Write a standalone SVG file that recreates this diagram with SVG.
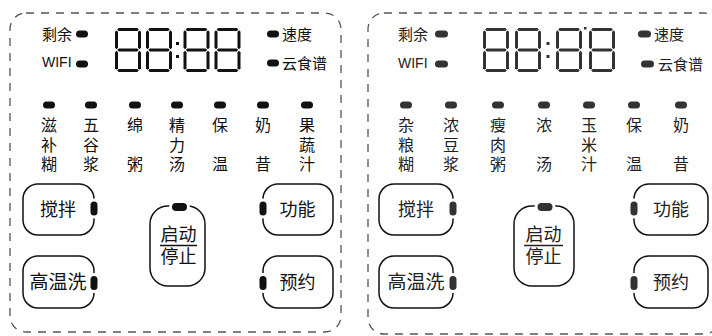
<svg xmlns="http://www.w3.org/2000/svg" xmlns:xlink="http://www.w3.org/1999/xlink" width="712" height="336" viewBox="0 0 712 336">
<style>
.panel{fill:none;stroke:#555;stroke-width:1.3;stroke-dasharray:8 7}
.btn{fill:#fff;stroke:#111;stroke-width:1.5}
.t{font-family:"Noto Sans CJK SC","Noto Sans",sans-serif;fill:#111}
.s15{font-size:15px}
.s16{font-size:16px;text-anchor:middle}
.s18{font-size:18px;text-anchor:middle}
.wifi{font-family:"Liberation Sans",Arial,sans-serif;font-size:14px;fill:#111}
.led{fill:#111}
.led2{fill:#333}
.halo{stroke:#fff;stroke-width:6;paint-order:stroke}
.r .t,.r .wifi{fill:#222}
</style>
<defs>
<g id="d8">
<polygon points="2.2,1.5 3.7,0 22.3,0 23.8,1.5 22.3,3 3.7,3"/>
<polygon points="1.5,2.3 3,3.8 3,19.7 1.5,21.2 0,19.7 0,3.8"/>
<polygon points="24.5,2.3 26,3.8 26,19.7 24.5,21.2 23,19.7 23,3.8"/>
<polygon points="2.3,22 3.8,20.5 22.2,20.5 23.7,22 22.2,23.5 3.8,23.5"/>
<polygon points="1.5,22.8 3,24.3 3,40.2 1.5,41.7 0,40.2 0,24.3"/>
<polygon points="24.5,22.8 26,24.3 26,40.2 24.5,41.7 23,40.2 23,24.3"/>
<polygon points="2.2,42.5 3.7,41 22.3,41 23.8,42.5 22.3,44 3.7,44"/>
</g>
</defs>
<rect width="712" height="336" fill="#fff"/>

<g id="connectors"/>

<!-- LEFT PANEL -->
<g id="left-panel">
<rect class="panel" x="10" y="13" width="331" height="319" rx="16"/>
<g id="left-status">
<text class="t s15" x="42" y="40">剩余</text>
<rect class="led" x="76" y="30.5" width="12" height="7" rx="3.5"/>
<text class="wifi" x="42" y="67">WIFI</text>
<rect class="led" x="76" y="60.5" width="12" height="7" rx="3.5"/>
<rect class="led" x="267" y="30.5" width="12" height="7" rx="3.5"/>
<text class="t s15" x="282" y="40">速度</text>
<rect class="led" x="267" y="59.5" width="12" height="7" rx="3.5"/>
<text class="t s15" x="282" y="69">云食谱</text>
</g>
<g id="left-display" fill="#111">
<use xlink:href="#d8" x="115" y="28"/>
<use xlink:href="#d8" x="146" y="28"/>
<rect x="176" y="42" width="3" height="3"/>
<rect x="176" y="55" width="3" height="3"/>
<use xlink:href="#d8" x="183.5" y="28"/>
<use xlink:href="#d8" x="214.5" y="28"/>
</g>
<g id="left-menus">
<rect class="led" x="43" y="101.5" width="12" height="7" rx="3.5"/>
<rect class="led" x="85" y="101.5" width="12" height="7" rx="3.5"/>
<rect class="led" x="129" y="101.5" width="12" height="7" rx="3.5"/>
<rect class="led" x="171" y="101.5" width="12" height="7" rx="3.5"/>
<rect class="led" x="214" y="101.5" width="12" height="7" rx="3.5"/>
<rect class="led" x="257" y="101.5" width="12" height="7" rx="3.5"/>
<rect class="led" x="301" y="101.5" width="12" height="7" rx="3.5"/>
<text class="t s16"><tspan x="49" y="131">滋</tspan><tspan x="49" y="150.5">补</tspan><tspan x="49" y="170">糊</tspan></text>
<text class="t s16"><tspan x="91" y="131">五</tspan><tspan x="91" y="150.5">谷</tspan><tspan x="91" y="170">浆</tspan></text>
<text class="t s16"><tspan x="135" y="131">绵</tspan><tspan x="135" y="170">粥</tspan></text>
<text class="t s16"><tspan x="177" y="131">精</tspan><tspan x="177" y="150.5">力</tspan><tspan x="177" y="170">汤</tspan></text>
<text class="t s16"><tspan x="220" y="131">保</tspan><tspan x="220" y="170">温</tspan></text>
<text class="t s16"><tspan x="263" y="131">奶</tspan><tspan x="263" y="170">昔</tspan></text>
<text class="t s16"><tspan x="307" y="131">果</tspan><tspan x="307" y="150.5">蔬</tspan><tspan x="307" y="170">汁</tspan></text>
</g>
<g id="left-btn-stir">
<rect class="btn" x="23" y="184" width="71" height="51" rx="15"/>
<rect class="led halo" x="90.5" y="201.5" width="7" height="14" rx="3.5"/>
<text class="t s18" x="58" y="216">搅拌</text>
</g>
<g id="left-btn-wash">
<rect class="btn" x="23" y="256" width="71" height="52" rx="15"/>
<rect class="led halo" x="90.5" y="276" width="7" height="14" rx="3.5"/>
<text class="t s18" x="58" y="289" style="font-size:19px">高温洗</text>
</g>
<g id="left-btn-start">
<rect class="btn" x="150" y="206" width="55" height="80" rx="18"/>
<rect class="led halo" x="172" y="203" width="15" height="8" rx="4"/>
<text class="t s18" x="178.5" y="241">启动</text>
<line x1="160" y1="245.5" x2="197" y2="245.5" stroke="#111" stroke-width="1.5"/>
<text class="t s18" x="178.5" y="263">停止</text>
</g>
<g id="left-btn-func">
<rect class="btn" x="263" y="184" width="70" height="51" rx="15"/>
<rect class="led halo" x="259.5" y="201.5" width="7" height="14" rx="3.5"/>
<text class="t s18" x="297.5" y="216">功能</text>
</g>
<g id="left-btn-timer">
<rect class="btn" x="263" y="256" width="70" height="52" rx="15"/>
<rect class="led halo" x="259.5" y="276" width="7" height="14" rx="3.5"/>
<text class="t s18" x="297.5" y="289">预约</text>
</g>
</g>

<!-- RIGHT PANEL -->
<g id="right-panel" class="r">
<rect class="panel" x="368" y="13" width="352" height="321" rx="16"/>
<g id="right-status">
<text class="t s15" x="398" y="40">剩余</text>
<rect class="led2" x="435" y="30.5" width="13" height="7" rx="3.5"/>
<text class="wifi" x="398" y="68">WIFI</text>
<rect class="led2" x="435" y="60.5" width="13" height="7" rx="3.5"/>
<rect class="led2" x="638" y="30.5" width="13" height="7" rx="3.5"/>
<text class="t s15" x="654" y="40">速度</text>
<rect class="led2" x="641" y="60.5" width="13" height="7" rx="3.5"/>
<text class="t s15" x="658" y="70">云食谱</text>
</g>
<g id="right-display" fill="#333">
<use xlink:href="#d8" x="483" y="28"/>
<use xlink:href="#d8" x="515" y="28"/>
<rect x="546.5" y="42" width="3" height="3"/>
<rect x="546.5" y="55" width="3" height="3"/>
<use xlink:href="#d8" x="556" y="28"/>
<rect x="584" y="27" width="2.5" height="2.5"/>
<use xlink:href="#d8" x="589" y="28"/>
</g>
<g id="right-menus">
<rect class="led2" x="400" y="101.5" width="12" height="7" rx="3.5"/>
<rect class="led2" x="445" y="101.5" width="12" height="7" rx="3.5"/>
<rect class="led2" x="492" y="101.5" width="12" height="7" rx="3.5"/>
<rect class="led2" x="538" y="101.5" width="12" height="7" rx="3.5"/>
<rect class="led2" x="583" y="101.5" width="12" height="7" rx="3.5"/>
<rect class="led2" x="628" y="101.5" width="12" height="7" rx="3.5"/>
<rect class="led2" x="675" y="101.5" width="12" height="7" rx="3.5"/>
<text class="t s16"><tspan x="406" y="131">杂</tspan><tspan x="406" y="150.5">粮</tspan><tspan x="406" y="170">糊</tspan></text>
<text class="t s16"><tspan x="451" y="131">浓</tspan><tspan x="451" y="150.5">豆</tspan><tspan x="451" y="170">浆</tspan></text>
<text class="t s16"><tspan x="498" y="131">瘦</tspan><tspan x="498" y="150.5">肉</tspan><tspan x="498" y="170">粥</tspan></text>
<text class="t s16"><tspan x="544" y="131">浓</tspan><tspan x="544" y="170">汤</tspan></text>
<text class="t s16"><tspan x="589" y="131">玉</tspan><tspan x="589" y="150.5">米</tspan><tspan x="589" y="170">汁</tspan></text>
<text class="t s16"><tspan x="634" y="131">保</tspan><tspan x="634" y="170">温</tspan></text>
<text class="t s16"><tspan x="681" y="131">奶</tspan><tspan x="681" y="170">昔</tspan></text>
</g>
<g id="right-btn-stir">
<rect class="btn" x="379" y="184" width="74" height="51" rx="15"/>
<rect class="led2 halo" x="449.5" y="201.5" width="7" height="14" rx="3.5"/>
<text class="t s18" x="416" y="216">搅拌</text>
</g>
<g id="right-btn-wash">
<rect class="btn" x="379" y="256" width="74" height="52" rx="15"/>
<rect class="led2 halo" x="449.5" y="276" width="7" height="14" rx="3.5"/>
<text class="t s18" x="416" y="289" style="font-size:19px">高温洗</text>
</g>
<g id="right-btn-start">
<rect class="btn" x="514" y="206" width="60" height="80" rx="18"/>
<rect class="led2 halo" x="537.5" y="203" width="15" height="8" rx="4"/>
<text class="t s18" x="543.5" y="241">启动</text>
<line x1="524" y1="245.5" x2="563" y2="245.5" stroke="#222" stroke-width="1.5"/>
<text class="t s18" x="543.5" y="263">停止</text>
</g>
<g id="right-btn-func">
<rect class="btn" x="634" y="184" width="74" height="51" rx="15"/>
<rect class="led2 halo" x="630.5" y="201.5" width="7" height="14" rx="3.5"/>
<text class="t s18" x="671" y="216">功能</text>
</g>
<g id="right-btn-timer">
<rect class="btn" x="634" y="256" width="74" height="52" rx="15"/>
<rect class="led2 halo" x="630.5" y="276" width="7" height="14" rx="3.5"/>
<text class="t s18" x="671" y="289">预约</text>
</g>
</g>
</svg>
